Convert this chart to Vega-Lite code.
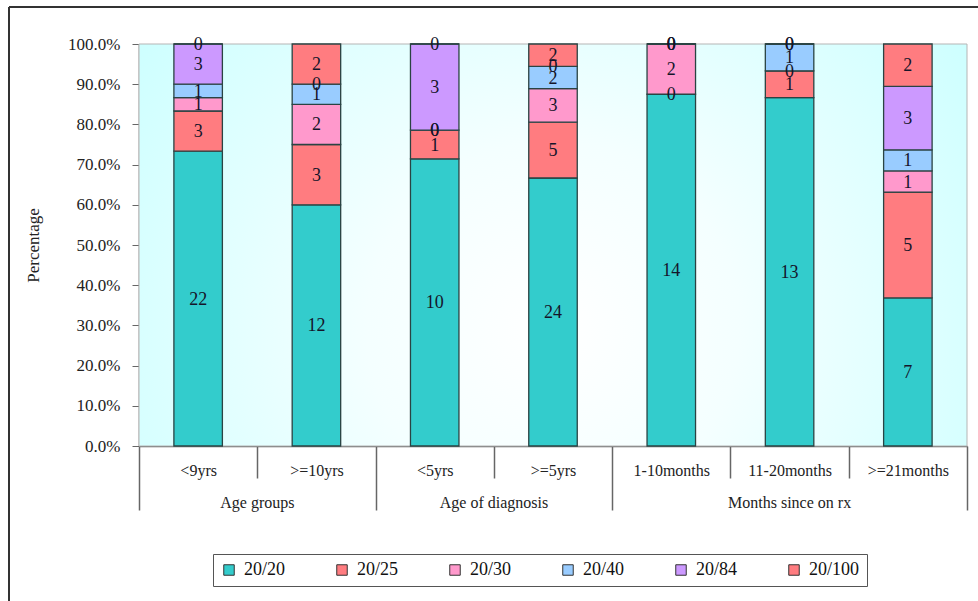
{
  "$schema": "https://vega.github.io/schema/vega-lite/v6.json",
  "width": 969,
  "height": 594,
  "autosize": {"type": "none"},
  "padding": {"left": 9, "top": 7, "right": 0, "bottom": 0},
  "background": "white",
  "config": {
    "font": "Liberation Serif",
    "view": {"stroke": "#333333", "strokeWidth": 2, "strokeDash": [969, 1563, 594, 0]},
    "axis": {"grid": false, "labelFont": "Liberation Serif", "titleFont": "Liberation Serif"},
    "legend": {"labelFont": "Liberation Serif"},
    "text": {"font": "Liberation Serif"}
  },
  "datasets": {
    "plot": [{"panel": "plot area"}],
    "acuity": [
      {"group": "Age groups", "subgroup": "<9yrs", "grade": "20/20", "rank": 1, "count": 22},
      {"group": "Age groups", "subgroup": "<9yrs", "grade": "20/25", "rank": 2, "count": 3},
      {"group": "Age groups", "subgroup": "<9yrs", "grade": "20/30", "rank": 3, "count": 1},
      {"group": "Age groups", "subgroup": "<9yrs", "grade": "20/40", "rank": 4, "count": 1},
      {"group": "Age groups", "subgroup": "<9yrs", "grade": "20/84", "rank": 5, "count": 3},
      {"group": "Age groups", "subgroup": "<9yrs", "grade": "20/100", "rank": 6, "count": 0},
      {"group": "Age groups", "subgroup": ">=10yrs", "grade": "20/20", "rank": 1, "count": 12},
      {"group": "Age groups", "subgroup": ">=10yrs", "grade": "20/25", "rank": 2, "count": 3},
      {"group": "Age groups", "subgroup": ">=10yrs", "grade": "20/30", "rank": 3, "count": 2},
      {"group": "Age groups", "subgroup": ">=10yrs", "grade": "20/40", "rank": 4, "count": 1},
      {"group": "Age groups", "subgroup": ">=10yrs", "grade": "20/84", "rank": 5, "count": 0},
      {"group": "Age groups", "subgroup": ">=10yrs", "grade": "20/100", "rank": 6, "count": 2},
      {"group": "Age of diagnosis", "subgroup": "<5yrs", "grade": "20/20", "rank": 1, "count": 10},
      {"group": "Age of diagnosis", "subgroup": "<5yrs", "grade": "20/25", "rank": 2, "count": 1},
      {"group": "Age of diagnosis", "subgroup": "<5yrs", "grade": "20/30", "rank": 3, "count": 0},
      {"group": "Age of diagnosis", "subgroup": "<5yrs", "grade": "20/40", "rank": 4, "count": 0},
      {"group": "Age of diagnosis", "subgroup": "<5yrs", "grade": "20/84", "rank": 5, "count": 3},
      {"group": "Age of diagnosis", "subgroup": "<5yrs", "grade": "20/100", "rank": 6, "count": 0},
      {"group": "Age of diagnosis", "subgroup": ">=5yrs", "grade": "20/20", "rank": 1, "count": 24},
      {"group": "Age of diagnosis", "subgroup": ">=5yrs", "grade": "20/25", "rank": 2, "count": 5},
      {"group": "Age of diagnosis", "subgroup": ">=5yrs", "grade": "20/30", "rank": 3, "count": 3},
      {"group": "Age of diagnosis", "subgroup": ">=5yrs", "grade": "20/40", "rank": 4, "count": 2},
      {"group": "Age of diagnosis", "subgroup": ">=5yrs", "grade": "20/84", "rank": 5, "count": 0},
      {"group": "Age of diagnosis", "subgroup": ">=5yrs", "grade": "20/100", "rank": 6, "count": 2},
      {"group": "Months since on rx", "subgroup": "1-10months", "grade": "20/20", "rank": 1, "count": 14},
      {"group": "Months since on rx", "subgroup": "1-10months", "grade": "20/25", "rank": 2, "count": 0},
      {"group": "Months since on rx", "subgroup": "1-10months", "grade": "20/30", "rank": 3, "count": 2},
      {"group": "Months since on rx", "subgroup": "1-10months", "grade": "20/40", "rank": 4, "count": 0},
      {"group": "Months since on rx", "subgroup": "1-10months", "grade": "20/84", "rank": 5, "count": 0},
      {"group": "Months since on rx", "subgroup": "1-10months", "grade": "20/100", "rank": 6, "count": 0},
      {"group": "Months since on rx", "subgroup": "11-20months", "grade": "20/20", "rank": 1, "count": 13},
      {"group": "Months since on rx", "subgroup": "11-20months", "grade": "20/25", "rank": 2, "count": 1},
      {"group": "Months since on rx", "subgroup": "11-20months", "grade": "20/30", "rank": 3, "count": 0},
      {"group": "Months since on rx", "subgroup": "11-20months", "grade": "20/40", "rank": 4, "count": 1},
      {"group": "Months since on rx", "subgroup": "11-20months", "grade": "20/84", "rank": 5, "count": 0},
      {"group": "Months since on rx", "subgroup": "11-20months", "grade": "20/100", "rank": 6, "count": 0},
      {"group": "Months since on rx", "subgroup": ">=21months", "grade": "20/20", "rank": 1, "count": 7},
      {"group": "Months since on rx", "subgroup": ">=21months", "grade": "20/25", "rank": 2, "count": 5},
      {"group": "Months since on rx", "subgroup": ">=21months", "grade": "20/30", "rank": 3, "count": 1},
      {"group": "Months since on rx", "subgroup": ">=21months", "grade": "20/40", "rank": 4, "count": 1},
      {"group": "Months since on rx", "subgroup": ">=21months", "grade": "20/84", "rank": 5, "count": 3},
      {"group": "Months since on rx", "subgroup": ">=21months", "grade": "20/100", "rank": 6, "count": 2}
    ]
  },
  "layer": [
    {
      "data": {"name": "plot"},
      "mark": {
        "type": "rect",
        "color": {
          "gradient": "radial",
          "x1": 0.5, "y1": 0.6, "r1": 0,
          "x2": 0.5, "y2": 0.6, "r2": 0.75,
          "stops": [
            {"offset": 0, "color": "#ffffff"},
            {"offset": 0.3, "color": "#f4ffff"},
            {"offset": 1, "color": "#bfffff"}
          ]
        },
        "stroke": "#b5b5b5",
        "strokeWidth": 1
      },
      "encoding": {
        "x": {"datum": 0, "type": "quantitative", "scale": {"domain": [0, 1], "range": [130, 958]}, "axis": null},
        "x2": {"datum": 1},
        "y": {"datum": 0, "type": "quantitative", "scale": {"domain": [0, 1], "range": [439, 37]}},
        "y2": {"datum": 1}
      }
    },
    {
      "data": {"name": "acuity"},
      "mark": {"type": "bar", "width": {"band": 0.41}, "stroke": "#2a4343", "strokeWidth": 1.3},
      "encoding": {
        "x": {
          "field": "subgroup", "type": "nominal",
          "scale": {"domain": ["<9yrs", ">=10yrs", "<5yrs", ">=5yrs", "1-10months", "11-20months", ">=21months"], "range": [130, 958], "paddingInner": 0, "paddingOuter": 0},
          "axis": {
            "title": null, "orient": "bottom", "offset": -155,
            "tickBand": "extent", "tickSize": 64, "tickWidth": 1.5, "tickColor": "#666666",
            "tickDash": {"condition": {"test": "indexof(['<9yrs','<5yrs','1-10months','11-20months'], datum.value) >= 0", "value": [32, 100]}, "value": [100, 0]},
            "labelPadding": -48, "labelFont": "Liberation Serif", "labelFontSize": 16, "labelColor": "#222222", "labelAngle": 0,
            "domainColor": "#666666", "domainWidth": 1.5
          }
        },
        "y": {
          "field": "count", "type": "quantitative", "stack": "normalize",
          "scale": {"domain": [0, 1], "range": [439, 37]},
          "axis": {
            "title": "Percentage", "labelExpr": "format(datum.value, '.1%')", "values": [0, 0.1, 0.2, 0.3, 0.4, 0.5, 0.6, 0.7, 0.8, 0.9, 1],
            "offset": -130, "tickSize": 7, "tickColor": "#666666", "domainColor": "#666666", "domainWidth": 1.5,
            "labelPadding": 12, "labelFont": "Liberation Serif", "labelFontSize": 17, "labelColor": "#222222",
            "titleFont": "Liberation Serif", "titleFontSize": 17, "titleFontWeight": "normal", "titleColor": "#222222", "titlePadding": 25
          }
        },
        "color": {
          "field": "grade", "type": "nominal",
          "scale": {"domain": ["20/20", "20/25", "20/30", "20/40", "20/84", "20/100"], "range": ["#33CCCC", "#FF7C80", "#FF99CC", "#99CCFF", "#CC99FF", "#FF7C80"]},
          "legend": {
            "title": null, "orient": "none", "legendX": 204, "legendY": 547,
            "direction": "horizontal", "columns": 6, "gridAlign": "all",
            "symbolType": "square", "symbolSize": 110, "symbolStrokeColor": "#333333", "symbolStrokeWidth": 1,
            "labelFont": "Liberation Serif", "labelFontSize": 18, "labelColor": "#111111", "labelOffset": 6, "columnPadding": 38,
            "padding": 7, "strokeColor": "#555555", "fillColor": "#ffffff"
          }
        },
        "order": {"field": "rank", "type": "quantitative", "sort": "ascending"}
      }
    },
    {
      "data": {"name": "acuity"},
      "mark": {"type": "text", "font": "Liberation Serif", "fontSize": 18, "color": "#15152a", "baseline": "middle", "dy": 1},
      "encoding": {
        "x": {
          "field": "subgroup", "type": "nominal",
          "scale": {"domain": ["<9yrs", ">=10yrs", "<5yrs", ">=5yrs", "1-10months", "11-20months", ">=21months"], "range": [130, 958], "paddingInner": 0, "paddingOuter": 0},
          "axis": null
        },
        "y": {"field": "count", "type": "quantitative", "stack": "normalize", "bandPosition": 0.5},
        "detail": {"field": "grade"},
        "order": {"field": "rank", "type": "quantitative", "sort": "ascending"},
        "text": {"field": "count", "type": "quantitative"}
      }
    },
    {
      "data": {"name": "acuity"},
      "transform": [{"filter": "datum.grade === '20/20' && (datum.subgroup === '>=10yrs' || datum.subgroup === '>=5yrs')"}],
      "mark": {"type": "text", "font": "Liberation Serif", "fontSize": 16, "color": "#222222", "align": "center", "baseline": "middle", "dx": -59, "dy": 57},
      "encoding": {
        "x": {
          "field": "subgroup", "type": "nominal",
          "scale": {"domain": ["<9yrs", ">=10yrs", "<5yrs", ">=5yrs", "1-10months", "11-20months", ">=21months"], "range": [130, 958], "paddingInner": 0, "paddingOuter": 0},
          "axis": null
        },
        "y": {"datum": 0, "type": "quantitative"},
        "text": {"field": "group"}
      }
    },
    {
      "data": {"name": "acuity"},
      "transform": [{"filter": "datum.grade === '20/20' && datum.subgroup === '11-20months'"}],
      "mark": {"type": "text", "font": "Liberation Serif", "fontSize": 16, "color": "#222222", "align": "center", "baseline": "middle", "dy": 57},
      "encoding": {
        "x": {
          "field": "subgroup", "type": "nominal",
          "scale": {"domain": ["<9yrs", ">=10yrs", "<5yrs", ">=5yrs", "1-10months", "11-20months", ">=21months"], "range": [130, 958], "paddingInner": 0, "paddingOuter": 0},
          "axis": null
        },
        "y": {"datum": 0, "type": "quantitative"},
        "text": {"field": "group"}
      }
    }
  ],
  "resolve": {"scale": {"x": "independent"}}
}
